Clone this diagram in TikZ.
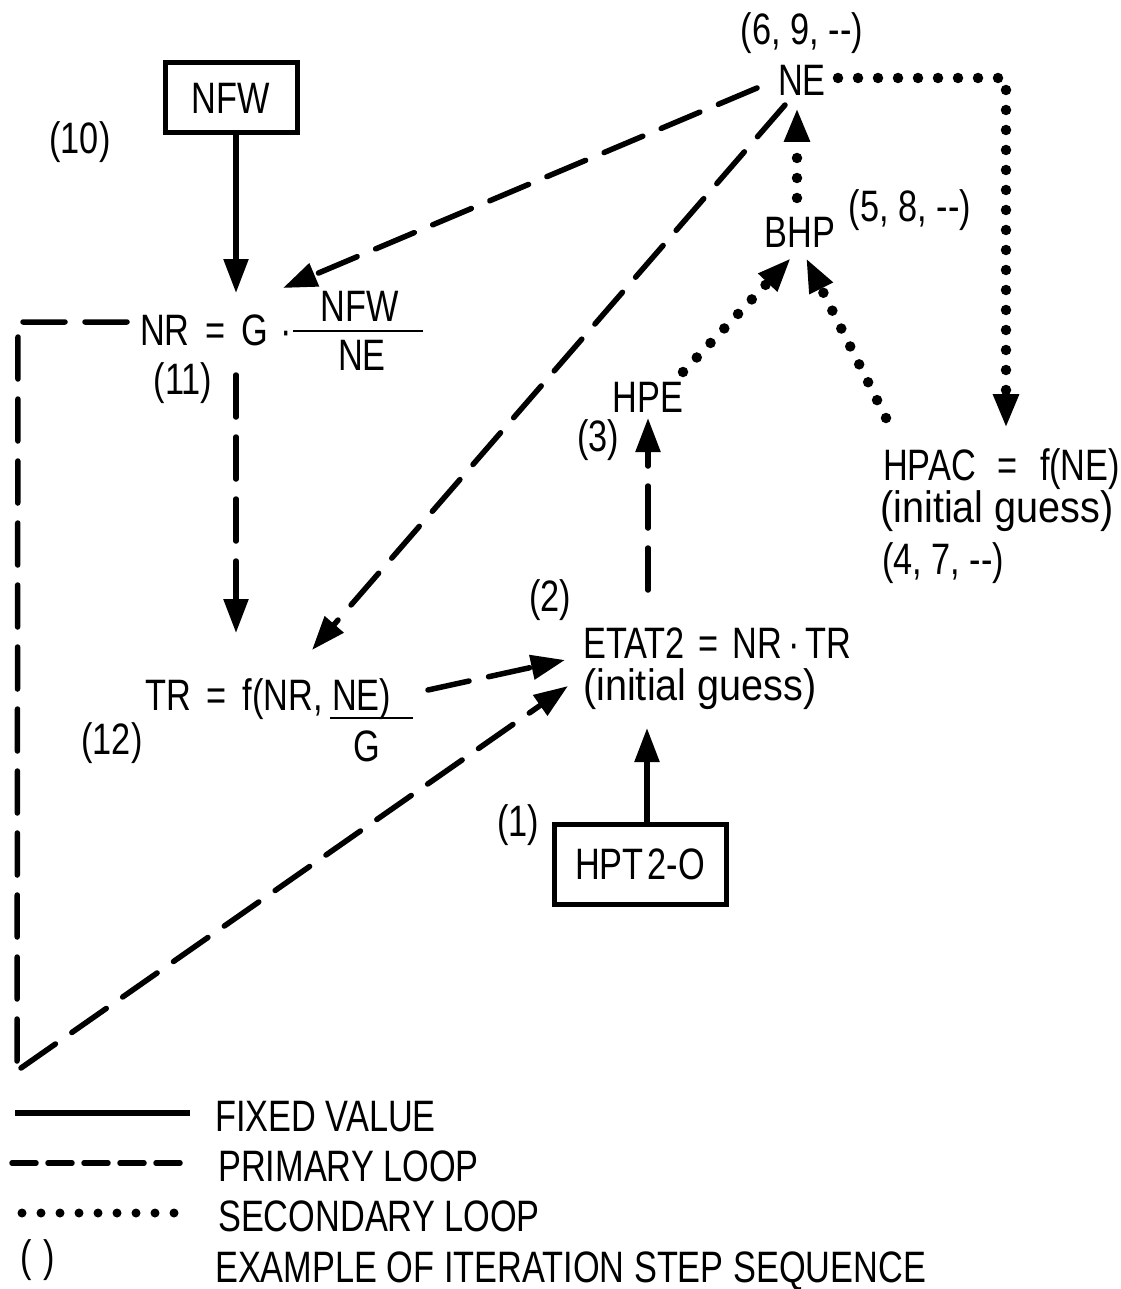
\documentclass[tikz,border=0pt]{standalone}
\usepackage{fontspec}
\setmainfont{Liberation Sans}[FakeStretch=0.78]
\newfontfamily\widefont{Liberation Sans}[FakeStretch=0.9]
\usetikzlibrary{arrows.meta}
\begin{document}
\begin{tikzpicture}[x=1pt,y=-1pt,
  txt/.style={font=\fontsize{44}{50}\selectfont, inner sep=0pt},
  fixed/.style={line width=5.5pt},
  primary/.style={line width=5.5pt, dash pattern=on 42pt off 20pt, line cap=round},
  secondary/.style={line width=10.5pt, dash pattern=on 0pt off 20pt, line cap=round},
  tip/.style={-{Triangle[length=34pt,width=24pt]}},
  box/.style={draw, line width=5pt, inner sep=0pt, font=\fontsize{44}{50}\selectfont},
  bar/.style={line width=2.5pt}]
\useasboundingbox (0,0) rectangle (1120,1289);

% ---------- nodes ----------
\node[box, minimum width=132pt, minimum height=70pt] (nfw) at (231,98) {NFW};
\node[txt] (l10) at (80,142) {(10)};

\node[txt, anchor=base west] (nreq) at (140,345) {NR\kern16pt=\kern16pt G\kern12pt·};
\node[txt] (nfwf) at (360,306) {NFW};
\node[txt] (nef) at (362,355) {NE};
\coordinate (nrbarL) at (293,331);
\coordinate (nrbarR) at (423,331);
\node[txt] (l11) at (183,383) {(11)};

\node[txt] (ne) at (802,80) {NE};
\node[txt] (l6) at (802,33) {(6, 9, -{}-)};
\node[txt] (bhp) at (800,232) {BHP};
\node[txt] (l5) at (910,210) {(5, 8, -{}-)};
\node[txt] (hpe) at (648,397) {HPE};
\node[txt] (l3) at (598,440) {(3)};

\node[txt, anchor=base west] (hpac) at (883,480) {HPAC\kern22pt=\kern22pt f(NE)};
\node[txt, anchor=base west] (hpacg) at (880,522) {\widefont (initial guess)};
\node[txt, anchor=base west] (l4) at (882,574) {(4, 7, -{}-)};

\node[txt] (l2) at (550,600) {(2)};
\node[txt, anchor=base west] (etat) at (583,658) {ETAT2\kern14pt=\kern14pt NR\kern6pt·\kern6pt TR};
\node[txt, anchor=base west] (etatg) at (583,700) {\widefont (initial guess)};

\node[txt, anchor=base west] (tr) at (145,710) {TR\kern16pt=\kern16pt f(NR,};
\node[txt, anchor=base west] (trne) at (332,710) {NE)};
\coordinate (trbarL) at (330,718);
\coordinate (trbarR) at (413,718);
\node[txt] (trg) at (367,746) {G};
\node[txt] (l12) at (112,743) {(12)};

\node[txt] (l1) at (518,825) {(1)};
\node[box, minimum width=172pt, minimum height=80pt] (hpt) at (640,864) {HPT\kern4pt 2-O};

% fraction bars
\draw[bar] (nrbarL) -- (nrbarR);
\draw[bar] (trbarL) -- (trbarR);

% ---------- connector end points ----------
\coordinate (nrTopTip) at (236,293);
\coordinate (nrNeTip) at (283,288);
\coordinate (trTopTip) at (236,633);
\coordinate (trNeTip) at (312,650);
\coordinate (etUpTip) at (565,660);
\coordinate (etLoTip) at (568,686);
\coordinate (neA) at (757,88);
\coordinate (neB) at (785,105);
\coordinate (nrL) at (127,322);
\coordinate (cTL) at (18,322);
\coordinate (cBL) at (17,1072);
\coordinate (neR) at (838,78);
\coordinate (neCorner) at (1006,78);
\coordinate (hpacTip) at (1006,428);

% ---------- solid ----------
\draw[fixed, tip] (nfw.south -| nrTopTip) -- (nrTopTip);
\draw[fixed, tip] (hpt.north -| 647,0) -- (647,728);

% ---------- primary (dashed) ----------
\draw[primary, tip] (neA) -- (nrNeTip);
\draw[primary, tip] (neB) -- (trNeTip);
\draw[primary, tip] (236,375) -- (trTopTip);
\draw[primary, tip] (428,690) -- (etUpTip);
\draw[primary, tip] (648,590) -- (hpe.south |- 0,418);
\draw[primary] (nrL) -- (cTL) -- (cBL);
\draw[primary, tip] (21,1068) -- (etLoTip);

% ---------- secondary (dotted) ----------
\draw[secondary, tip] (neR) -- (neCorner) -- (hpacTip);
\draw[secondary, tip] (797,198) -- (797,108);
\draw[secondary, tip] (683,372) -- (791,258);
\draw[secondary, tip] (886,418) -- (806,258);

% ---------- legend ----------
\draw[fixed] (15,1113) -- (190,1113);
\node[txt, anchor=base west] (lg1) at (215,1131) {FIXED VALUE};
\draw[line width=5.5pt, dash pattern=on 24pt off 12pt, line cap=round] (12,1163) -- (190,1163);
\node[txt, anchor=base west] (lg2) at (218,1181) {PRIMARY LOOP};
\draw[line width=9pt, dash pattern=on 0pt off 19pt, line cap=round] (22,1213) -- (190,1213);
\node[txt, anchor=base west] (lg3) at (218,1231) {SECONDARY LOOP};
\node[txt] (lg4a) at (38,1260) {(\kern12pt)};
\node[txt, anchor=base west] (lg4) at (215,1282) {EXAMPLE OF ITERATION STEP SEQUENCE};
\end{tikzpicture}
\end{document}
